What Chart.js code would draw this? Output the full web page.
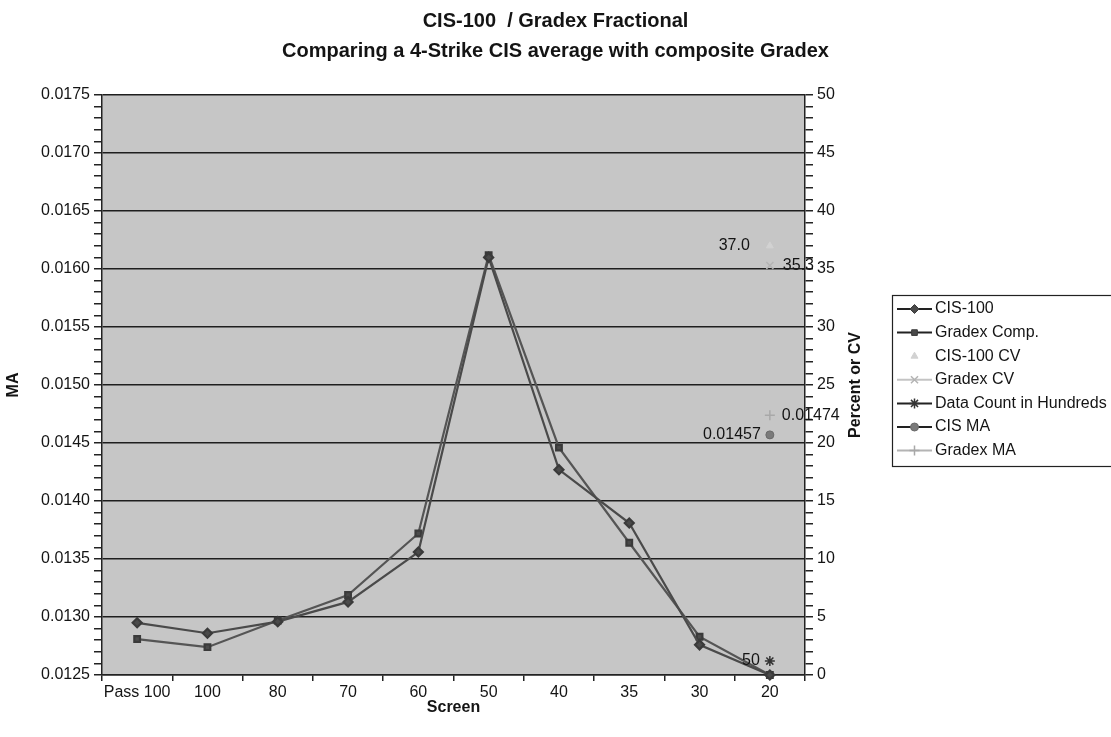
<!DOCTYPE html>
<html><head><meta charset="utf-8">
<script src="https://cdn.jsdelivr.net/npm/chart.js@4.4.1/dist/chart.umd.min.js"></script>
<style>html,body{margin:0;padding:0;background:#fff;}canvas{display:block;}</style>
</head><body>
<canvas id="c" width="1111" height="737"></canvas>
<script>
const categories = ['Pass 100','100','80','70','60','50','40','35','30','20'];
const cis100     = [0.01295,0.01286,0.01296,0.01313,0.01356,0.01610,0.01427,0.01381,0.01276,0.01250];
const gradexComp = [0.01281,0.01274,0.01297,0.01319,0.01372,0.01612,0.01446,0.01364,0.01283,0.01250];
const cis100CV   = [null,null,null,null,null,null,null,null,null,37.0];
const gradexCV   = [null,null,null,null,null,null,null,null,null,35.3];
const dataCountHundreds = [null,null,null,null,null,null,null,null,null,1.2];
const dataCountLabels   = [null,null,null,null,null,null,null,null,null,'50'];
const cisMA      = [null,null,null,null,null,null,null,null,null,0.01457];
const gradexMA   = [null,null,null,null,null,null,null,null,null,0.01474];
const leftTickValues = [0.0125,0.0130,0.0135,0.0140,0.0145,0.0150,0.0155,0.0160,0.0165,0.0170,0.0175];
const leftTickLabels = ['0.0125','0.0130','0.0135','0.0140','0.0145','0.0150','0.0155','0.0160','0.0165','0.0170','0.0175'];
const rightTickValues = [0,5,10,15,20,25,30,35,40,45,50];
const rightTickLabels = ['0','5','10','15','20','25','30','35','40','45','50'];
const leftMinorStep = 0.0001;
const rightMinorStep = 1;
const titleLines = ['CIS-100  / Gradex Fractional','Comparing a 4-Strike CIS average with composite Gradex'];

const FONT = "'Liberation Sans', Arial, sans-serif";
const INK = '#141414';

function majorIndex(vals, v){ return vals.findIndex(t => Math.abs(t - v) < 1e-9); }
function minorTicks(min, max, step){
  const out = []; const n = Math.round((max - min) / step);
  for (let i = 0; i <= n; i++) out.push({value: +(min + i * step).toFixed(6)});
  return out;
}

const bgPlugin = {
  id: 'plotBg',
  beforeDraw(chart){
    const {ctx, chartArea: a} = chart;
    ctx.save(); ctx.fillStyle = '#c6c6c6';
    ctx.fillRect(a.left, a.top, a.right - a.left, a.bottom - a.top);
    ctx.restore();
  }
};

const labelPlugin = {
  id: 'dataLabels',
  afterDatasetsDraw(chart){
    const ctx = chart.ctx;
    ctx.save();
    ctx.font = '16px ' + FONT; ctx.fillStyle = INK; ctx.textBaseline = 'middle';
    chart.data.datasets.forEach((ds, i) => {
      if (!ds.dl) return;
      const meta = chart.getDatasetMeta(i);
      meta.data.forEach((pt, j) => {
        const v = ds.data[j]; if (v == null) return;
        const txt = ds.dl.text(v, j);
        const left = ds.dl.align === 'left';
        ctx.textAlign = left ? 'right' : 'left';
        ctx.fillText(txt, pt.x + (left ? -ds.dl.offset : ds.dl.offset), pt.y + (ds.dl.dy || 0));
      });
    });
    ctx.restore();
  }
};

const extrasPlugin = {
  id: 'extras',
  afterDraw(chart){
    const ctx = chart.ctx; const a = chart.chartArea;
    ctx.save();
    ctx.font = 'bold 16px ' + FONT; ctx.fillStyle = INK;
    ctx.textAlign = 'center'; ctx.textBaseline = 'middle';
    ctx.translate(856, (a.top + a.bottom) / 2); ctx.rotate(-Math.PI / 2);
    ctx.fillText('Percent or CV', 0, 0);
    ctx.restore();
    ctx.save();
    const lx = 892, ly = 295, lh = 171;
    ctx.fillStyle = '#fff'; ctx.fillRect(lx, ly, 260, lh);
    ctx.strokeStyle = '#222'; ctx.lineWidth = 1.2; ctx.strokeRect(lx + 0.5, ly + 0.5, 260, lh);
    ctx.font = '16px ' + FONT; ctx.textAlign = 'left'; ctx.textBaseline = 'middle';
    chart.data.datasets.forEach((ds, i) => {
      const y = 309 + i * 23.6;
      if (ds.legendLine) {
        ctx.strokeStyle = ds.legendLine; ctx.lineWidth = 2;
        ctx.beginPath(); ctx.moveTo(897, y); ctx.lineTo(932, y); ctx.stroke();
      }
      ctx.fillStyle = ds.pointBackgroundColor; ctx.strokeStyle = ds.pointBorderColor;
      ctx.lineWidth = ds.pointBorderWidth || 1;
      Chart.helpers.drawPoint(ctx, {pointStyle: ds.pointStyle, radius: ds.pointRadius, rotation: 0, borderWidth: ds.pointBorderWidth || 1}, 914.5, y);
      ctx.fillStyle = INK;
      ctx.fillText(ds.label, 935, y);
    });
    ctx.restore();
  }
};

const base = {clip: false, tension: 0, spanGaps: true};
new Chart(document.getElementById('c'), {
  type: 'line',
  data: {
    labels: categories,
    datasets: [
      Object.assign({label:'CIS-100', data: cis100, yAxisID:'y', borderColor:'#4a4a4a', borderWidth:2.2,
        pointStyle:'rectRot', pointRadius:4.5, pointBackgroundColor:'#4a4a4a', pointBorderColor:'#3a3a3a', legendLine:'#222'}, base),
      Object.assign({label:'Gradex Comp.', data: gradexComp, yAxisID:'y', borderColor:'#555', borderWidth:2.2,
        pointStyle:'rect', pointRadius:4, pointBackgroundColor:'#4a4a4a', pointBorderColor:'#3a3a3a', legendLine:'#222'}, base),
      Object.assign({label:'CIS-100 CV', data: cis100CV, yAxisID:'y1', showLine:false, borderColor:'#d2d2d2',
        pointStyle:'triangle', pointRadius:4, pointBackgroundColor:'#d2d2d2', pointBorderColor:'#d2d2d2', legendLine:null,
        dl:{align:'left', offset:20, text:v => v.toFixed(1)}}, base),
      Object.assign({label:'Gradex CV', data: gradexCV, yAxisID:'y1', borderColor:'#bbb',
        pointStyle:'crossRot', pointRadius:5, pointBorderWidth:1.5, pointBackgroundColor:'#bbb', pointBorderColor:'#b4b4b4', legendLine:'#c4c4c4',
        dl:{align:'right', offset:13, text:v => v.toFixed(1)}}, base),
      Object.assign({label:'Data Count in Hundreds', data: dataCountHundreds, yAxisID:'y1', borderColor:'#222',
        pointStyle:'star', pointRadius:5, pointBorderWidth:1.5, pointBackgroundColor:'#222', pointBorderColor:'#333', legendLine:'#222',
        dl:{align:'left', offset:10, text:(v, j) => dataCountLabels[j]}}, base),
      Object.assign({label:'CIS MA', data: cisMA, yAxisID:'y', borderColor:'#222',
        pointStyle:'circle', pointRadius:4, pointBackgroundColor:'#7a7a7a', pointBorderColor:'#6a6a6a', legendLine:'#222',
        dl:{align:'left', offset:9, text:v => v.toFixed(5)}}, base),
      Object.assign({label:'Gradex MA', data: gradexMA, yAxisID:'y', borderColor:'#aaa',
        pointStyle:'cross', pointRadius:5, pointBorderWidth:1.5, pointBackgroundColor:'#aaa', pointBorderColor:'#a8a8a8', legendLine:'#b4b4b4',
        dl:{align:'right', offset:12, text:v => v.toFixed(5)}}, base)
    ]
  },
  options: {
    responsive: false, animation: false, devicePixelRatio: 1,
    layout: {padding: 0},
    plugins: {
      legend: {display: false}, tooltip: {enabled: false},
      title: {display: true, text: titleLines, color: INK,
        font: {family: FONT, size: 20, weight: 'bold', lineHeight: 1.5}, padding: {top: 6, bottom: 29}}
    },
    scales: {
      x: {
        type: 'category', offset: true,
        grid: {display: true, drawOnChartArea: false, drawTicks: true, offset: true, tickLength: 6, color: '#222', lineWidth: 1.5},
        border: {display: true, color: '#222', width: 1.5},
        ticks: {color: INK, font: {family: FONT, size: 16}, padding: 2, autoSkip: false, maxRotation: 0},
        title: {display: true, text: 'Screen', color: INK, font: {family: FONT, size: 16, weight: 'bold'}, padding: {top: 0, bottom: 20}},
        afterFit(s){ s.height = 62; }
      },
      y: {
        type: 'linear', position: 'left', min: 0.0125, max: 0.0175,
        afterBuildTicks(s){ s.ticks = minorTicks(0.0125, 0.0175, leftMinorStep); },
        ticks: {autoSkip: false, color: INK, font: {family: FONT, size: 16}, padding: 4,
          callback: v => { const k = majorIndex(leftTickValues, v); return k >= 0 ? leftTickLabels[k] : ''; }},
        grid: {drawOnChartArea: true, tickLength: 8, lineWidth: 1.5, tickColor: '#222',
          color: c => (c.tick && majorIndex(leftTickValues, c.tick.value) >= 0) ? '#1e1e1e' : 'rgba(0,0,0,0)'},
        border: {display: true, color: '#222', width: 1.5},
        title: {display: true, text: 'MA', color: INK, font: {family: FONT, size: 16, weight: 'bold'}, padding: 4},
        afterFit(s){ s.width = 102; }
      },
      y1: {
        type: 'linear', position: 'right', min: 0, max: 50,
        afterBuildTicks(s){ s.ticks = minorTicks(0, 50, rightMinorStep); },
        ticks: {autoSkip: false, color: INK, font: {family: FONT, size: 16}, padding: 4,
          callback: v => { const k = majorIndex(rightTickValues, v); return k >= 0 ? rightTickLabels[k] : ''; }},
        grid: {drawOnChartArea: false, tickLength: 8, lineWidth: 1.5, color: '#222'},
        border: {display: true, color: '#222', width: 1.5},
        afterFit(s){ s.width = 306; }
      }
    }
  },
  plugins: [bgPlugin, labelPlugin, extrasPlugin]
});
</script>
</body></html>
